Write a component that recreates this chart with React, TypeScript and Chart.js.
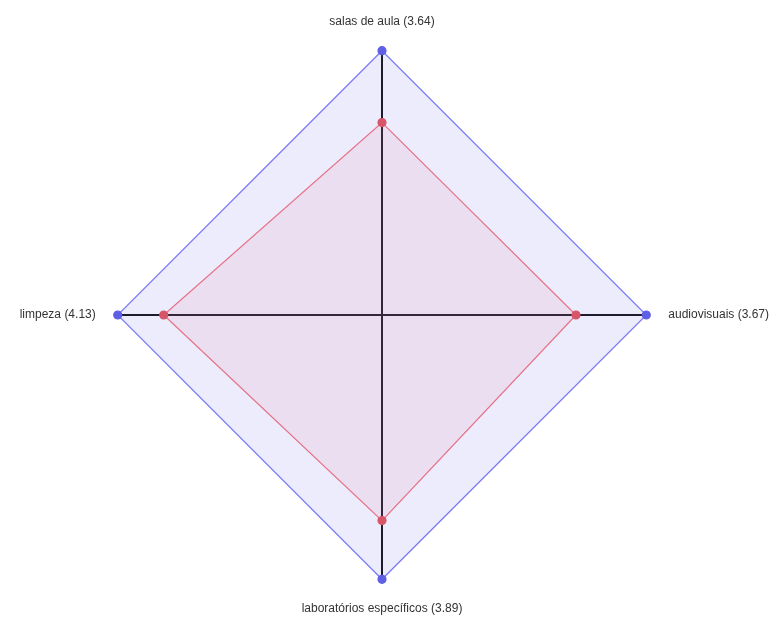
import React, { useEffect, useRef } from "react";
import { Chart, registerables } from "chart.js";

Chart.register(...registerables);

const categories = ["salas de aula", "audiovisuais", "laboratórios específicos", "limpeza"];
const scores = [3.64, 3.67, 3.89, 4.13];
const maxScores = [5, 5, 5, 5];
const labels = categories.map((c, i) => `${c} (${scores[i].toFixed(2)})`);

export default function App() {
  const ref = useRef<HTMLCanvasElement | null>(null);
  useEffect(() => {
    document.body.style.margin = "0";
    if (!ref.current) return;
    const chart = new Chart(ref.current, {
      type: "radar",
      data: {
        labels,
        datasets: [
          {
            data: scores,
            borderColor: "rgba(230,100,120,0.9)",
            backgroundColor: "rgba(230,120,160,0.12)",
            pointBackgroundColor: "rgb(215,85,105)",
            pointBorderColor: "rgb(215,85,105)",
            pointRadius: 4,
            borderWidth: 1.2,
            fill: true,
          },
          {
            data: maxScores,
            borderColor: "rgba(110,110,245,0.9)",
            backgroundColor: "rgba(110,110,240,0.13)",
            pointBackgroundColor: "rgb(95,95,230)",
            pointBorderColor: "rgb(95,95,230)",
            pointRadius: 4,
            borderWidth: 1.2,
            fill: true,
          },
        ],
      },
      options: {
        animation: false,
        responsive: false,
        layout: { padding: { top: 14, bottom: 3, left: 8, right: 0 } },
        plugins: { legend: { display: false }, tooltip: { enabled: false } },
        scales: {
          r: {
            min: 0,
            max: 5,
            ticks: { display: false },
            grid: { display: false },
            angleLines: { display: true, color: "#111", lineWidth: 2 },
            pointLabels: {
              padding: 22,
              color: "#333",
              font: { family: "'Liberation Sans', Arial, sans-serif", size: 12 },
            },
          },
        },
      },
    });
    return () => chart.destroy();
  }, []);
  return (
    <div style={{ width: 782, height: 620 }}>
      <canvas ref={ref} width={782} height={620} style={{ display: "block" }} />
    </div>
  );
}
